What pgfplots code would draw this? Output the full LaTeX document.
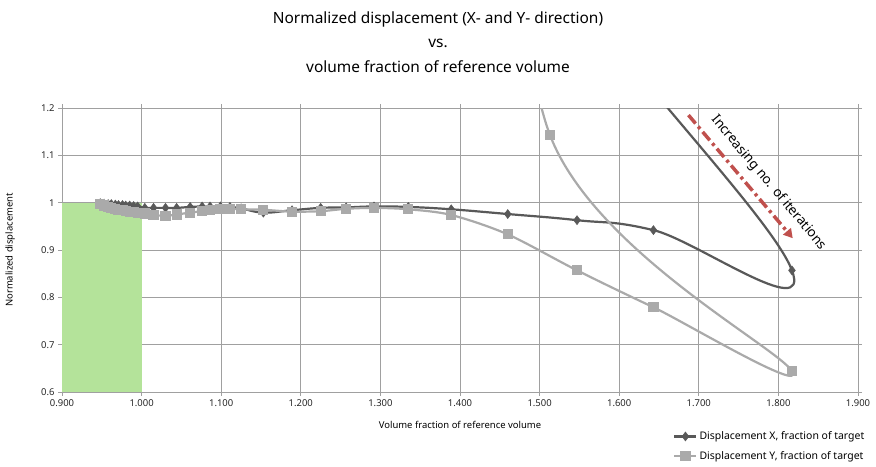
\documentclass[border=0pt]{standalone}
\usepackage{fontspec}
\setmainfont{Noto Sans}
\usepackage{pgfplots}
\pgfplotsset{compat=1.18}
\usetikzlibrary{arrows.meta}

\definecolor{darkser}{RGB}{89,89,89}
\definecolor{lightser}{RGB}{170,170,170}
\definecolor{zone}{RGB}{180,227,154}
\definecolor{gridc}{RGB}{160,160,160}
\definecolor{arrowred}{RGB}{192,80,77}

\begin{document}
\begin{tikzpicture}
\begin{axis}[
    scale only axis,
    width=796bp, height=284bp,
    xmin=0.9, xmax=1.9, ymin=0.6, ymax=1.2,
    xtick={0.9,1.0,1.1,1.2,1.3,1.4,1.5,1.6,1.7,1.8,1.9},
    ytick={0.6,0.7,0.8,0.9,1.0,1.1,1.2},
    xticklabel style={/pgf/number format/.cd, fixed, fixed zerofill, precision=3},
    yticklabel style={/pgf/number format/.cd, fixed, precision=1},
    /pgf/number format/assume math mode=true,
    ticklabel style={font=\fontsize{9.5}{11}\selectfont, text=black!85},
    grid=major,
    grid style={gridc, line width=0.8bp},
    axis line style={gridc, line width=0.8bp},
    tick style={gridc, line width=0.8bp},
    tick align=outside,
    major tick length=4bp,
    xlabel={Volume fraction of reference volume},
    ylabel={Normalized displacement},
    label style={font=\fontsize{9.5}{11}\selectfont},
    xlabel style={at={(axis description cs:0.5,-0.116)}, anchor=center},
    ylabel style={at={(axis description cs:-0.065,0.5)}, anchor=center},
    legend style={at={(axis description cs:0.764,-0.125)}, anchor=north west,
        draw=none, fill=none, font=\fontsize{10.5}{12}\selectfont, row sep=6bp},
    legend cell align=left,
    legend image code/.code={\draw[mark repeat=2, mark phase=2]
        plot coordinates {(0bp,0bp)(11bp,0bp)(22bp,0bp)};},
]
% target zone
\addplot[fill=zone, draw=none, forget plot] coordinates {(0.9,0.6) (0.9,1.0) (1.0,1.0) (1.0,0.6)} -- cycle;

% displacement X
\addplot[darkser, line width=2.2bp, smooth, tension=0.7, mark=diamond*, mark size=4.5bp,
    mark options={fill=darkser, line width=0.5bp}] coordinates {
(1.400,2.000) (1.513,1.525) (1.817,0.857) (1.643,0.942) (1.547,0.963)
(1.460,0.976) (1.389,0.986) (1.335,0.991) (1.292,0.992) (1.257,0.990)
(1.225,0.989) (1.189,0.984) (1.153,0.979) (1.125,0.988) (1.111,0.991)
(1.099,0.992) (1.086,0.992) (1.076,0.992) (1.061,0.991) (1.044,0.989)
(1.030,0.989) (1.015,0.989) (1.004,0.989) (0.995,0.992) (0.990,0.993)
(0.985,0.994) (0.980,0.994) (0.976,0.995) (0.971,0.995) (0.967,0.996)
(0.962,0.997) (0.958,0.997) (0.953,0.998) (0.948,0.999)
};
\addlegendentry{Displacement X, fraction of target}

% displacement Y
\addplot[lightser, line width=2.2bp, smooth, mark=square*, mark size=4bp,
    mark options={fill=lightser, draw=lightser}] coordinates {
(1.420,2.400) (1.513,1.143) (1.817,0.644) (1.643,0.779) (1.547,0.857)
(1.460,0.933) (1.389,0.974) (1.335,0.986) (1.292,0.989) (1.257,0.987)
(1.225,0.982) (1.189,0.981) (1.153,0.985) (1.125,0.986) (1.111,0.987)
(1.099,0.986) (1.086,0.984) (1.076,0.982) (1.061,0.979) (1.044,0.975)
(1.030,0.972) (1.015,0.974) (1.004,0.977) (0.995,0.979) (0.990,0.980)
(0.985,0.981) (0.980,0.982) (0.976,0.984) (0.971,0.985) (0.967,0.987)
(0.962,0.989) (0.958,0.991) (0.953,0.994) (0.948,0.997)
};
\addlegendentry{Displacement Y, fraction of target}

% annotation
\draw[arrowred, line width=3.5bp, dash pattern=on 11bp off 4bp on 3bp off 4bp,
    -{Triangle[length=9bp, width=10bp]}]
    (axis cs:1.687,1.185) -- (axis cs:1.818,0.925);
\node[rotate=-50, font=\fontsize{13.5}{15}\selectfont, anchor=center]
    at (axis cs:1.788,1.042) {Increasing no. of iterations};
\end{axis}
% title
\node[align=center, font=\fontsize{15.5}{24.5}\selectfont, anchor=center]
    at (376bp,350bp)
    {Normalized displacement (X- and Y- direction)\\vs.\\volume fraction of reference volume};
\path (-62bp,-75bp) rectangle (814bp,392bp);
\end{tikzpicture}
\end{document}
